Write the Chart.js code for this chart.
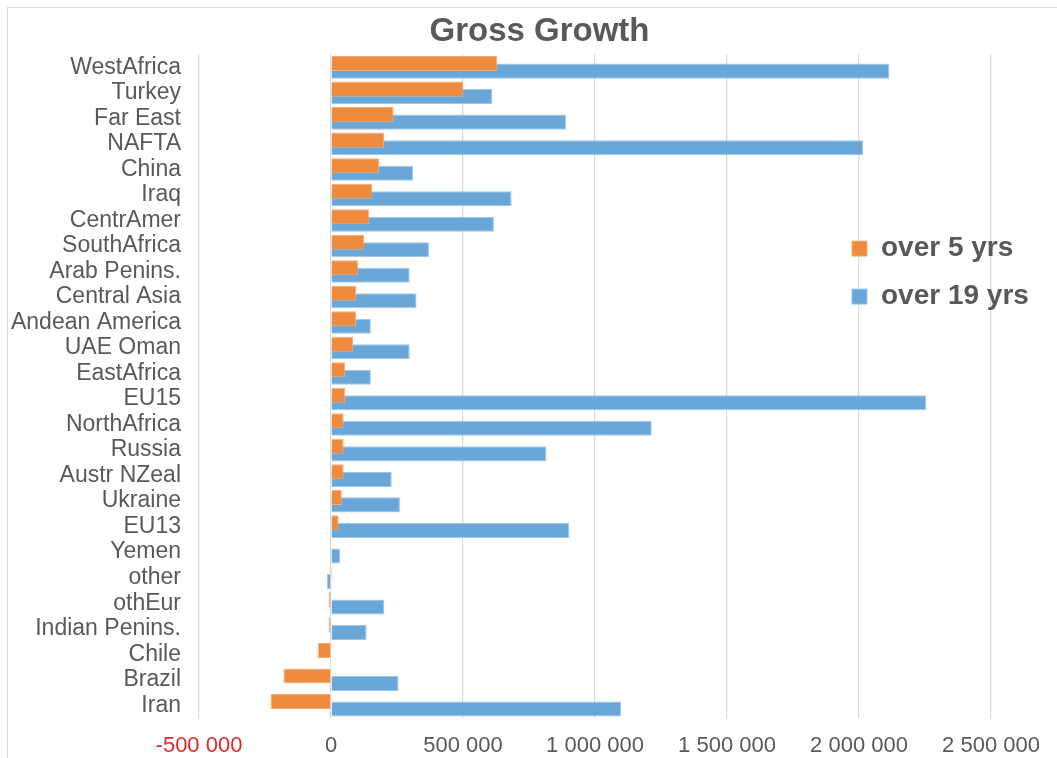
<!DOCTYPE html>
<html>
<head>
<meta charset="utf-8">
<title>Gross Growth</title>
<script src="https://cdn.jsdelivr.net/npm/chart.js@4.4.1/dist/chart.umd.min.js"></script>
<style>
  html, body { margin: 0; padding: 0; background: #fff; overflow: hidden; }
  #frame { position: absolute; left: 7px; top: 7px; width: 1200px; height: 900px;
           border-left: 1px solid #d9d9d9; border-top: 1px solid #d9d9d9; }
  #wrap { position: absolute; left: 0; top: 0; width: 1057px; height: 758px; }
</style>
</head>
<body>
<div id="frame"></div>
<div id="wrap"><canvas id="growth"></canvas></div>
<script>
const regions = ['WestAfrica', 'Turkey', 'Far East', 'NAFTA', 'China', 'Iraq', 'CentrAmer',
  'SouthAfrica', 'Arab Penins.', 'Central Asia', 'Andean America', 'UAE Oman', 'EastAfrica',
  'EU15', 'NorthAfrica', 'Russia', 'Austr NZeal', 'Ukraine', 'EU13', 'Yemen', 'other',
  'othEur', 'Indian Penins.', 'Chile', 'Brazil', 'Iran'];

const over5yrs = [630000, 501000, 237000, 201000, 182000, 157000, 145000,
  126000, 103000, 96000, 95000, 84000, 54000,
  54000, 48000, 48000, 48000, 41000, 29000, 3000, 5000,
  -9000, -9000, -50000, -180000, -229000];

const over19yrs = [2115000, 611000, 890000, 2016000, 311000, 684000, 617000,
  371000, 298000, 324000, 151000, 298000, 151000,
  2255000, 1215000, 816000, 230000, 261000, 903000, 35000, -15000,
  201000, 135000, 0, 256000, 1099000];

const seriesNames = ['over 5 yrs', 'over 19 yrs'];
const xTicks = [-500000, 0, 500000, 1000000, 1500000, 2000000, 2500000];

const grey = '#595959';
const font = 'Liberation Sans, Arial, sans-serif';

function spaced(v) {
  var s = String(Math.abs(v)).replace(/\B(?=(\d{3})+(?!\d))/g, ' ');
  return v < 0 ? '-' + s : s;
}

// legend sits inside the plot, right hand side
const legendSpot = {
  id: 'legendSpot',
  afterLayout(chart) {
    var lg = chart.legend, area = chart.chartArea;
    var w = lg.width, h = lg.height;
    lg.left = area.right - 225;
    lg.right = lg.left + w;
    lg.top = area.top + 160;
    lg.bottom = lg.top + h;
  }
};

new Chart(document.getElementById('growth'), {
  type: 'bar',
  data: {
    labels: regions,
    datasets: [
      {
        label: seriesNames[0],
        data: over5yrs,
        backgroundColor: '#f08a3c',
        borderColor: '#f5ad76',
        borderWidth: 1
      },
      {
        label: seriesNames[1],
        data: over19yrs,
        backgroundColor: '#69a7d9',
        borderColor: '#9cc6ea',
        borderWidth: 1
      }
    ]
  },
  options: {
    indexAxis: 'y',
    responsive: true,
    maintainAspectRatio: false,
    animation: false,
    categoryPercentage: 0.59,
    barPercentage: 2.0,
    // right padding pulls the title centre over
    layout: { padding: { left: 4, top: 0, right: -18, bottom: 0 } },
    plugins: {
      title: {
        display: true,
        text: 'Gross Growth',
        color: grey,
        font: { family: font, size: 33, weight: 'bold' },
        padding: { top: 12, bottom: 3 }
      },
      legend: {
        position: 'chartArea',
        align: 'start',
        labels: {
          color: grey,
          font: { family: font, size: 28, weight: 'bold' },
          boxWidth: 15,
          boxHeight: 15,
          padding: 20
        }
      },
      tooltip: { enabled: false }
    },
    scales: {
      x: {
        min: -500000,
        max: 2750000,
        afterBuildTicks: function(scale) {
          scale.ticks = xTicks.map(function(v) { return { value: v }; });
        },
        afterFit: function(scale) { scale.height = 40; },
        grid: { color: '#d9d9d9', lineWidth: 1.2, drawTicks: false },
        border: { display: false },
        ticks: {
          padding: 15,
          maxRotation: 0,
          color: function(ctx) { return ctx.tick && ctx.tick.value < 0 ? '#e02a2a' : grey; },
          font: { family: font, size: 22 },
          callback: function(v) { return spaced(v); }
        }
      },
      y: {
        afterFit: function(scale) { scale.width = 195; },
        grid: { display: false, drawTicks: false },
        border: { display: false },
        ticks: {
          padding: 18,
          autoSkip: false,
          color: grey,
          font: { family: font, size: 23 }
        }
      }
    }
  },
  plugins: [legendSpot]
});
</script>
</body>
</html>
